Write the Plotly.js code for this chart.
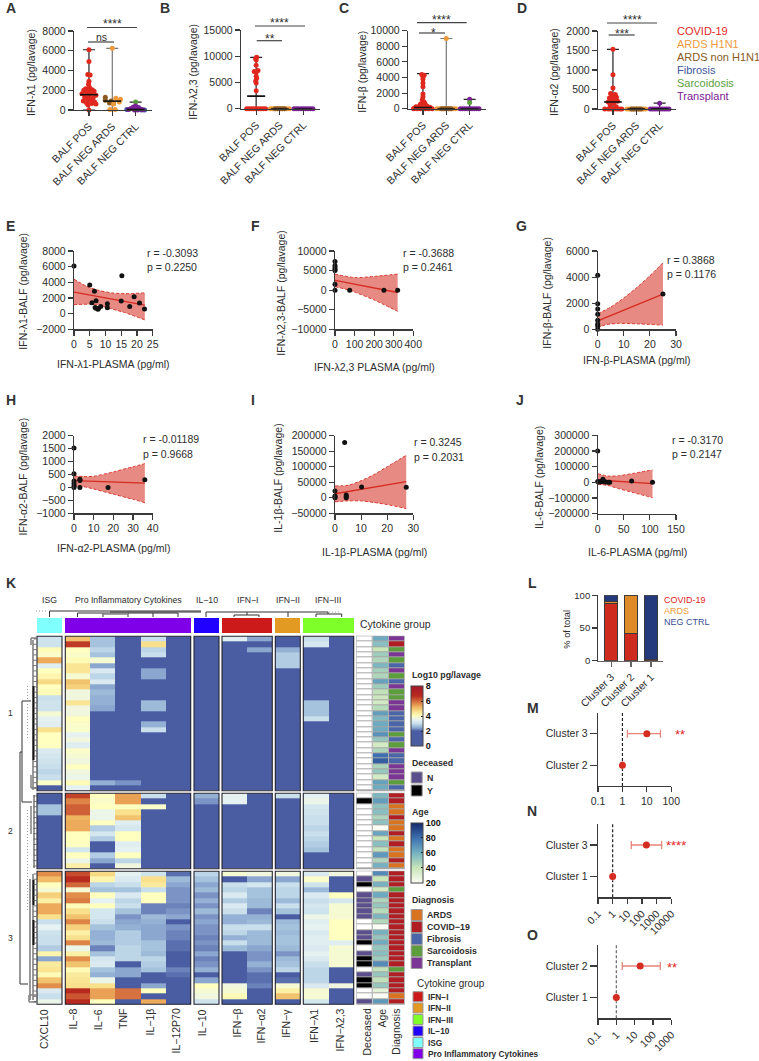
<!DOCTYPE html>
<html>
<head>
<meta charset="utf-8">
<script src="https://cdn.plot.ly/plotly-3.0.1.min.js"></script>
<style>body{margin:0;background:#fff}#chart{width:759px;height:1061px}</style>
</head>
<body>
<div id="chart"></div>
<script>
// ---- panels A-D: swarm values (pg/lavage) and x offsets from the category
const groups = ['BALF POS', 'BALF NEG ARDS', 'BALF NEG CTRL'];
const spreadX = [-.4, -.3, -.2, -.1, 0, .1, .2, .3, .4];
const spreadZero = [0, 0, 0, 0, 0, 0, 0, 0, 0];

const aCovidY = [6100,4900,3600,3550,2900,2600,2300,2150,2050,2000,1950,1900,1800,1700,1650,1500,1450,1300,1250,1100,1000,900,800,700,650,600,500,0];
const aCovidX = [0,0,-.05,.05,0,-.02,.02,-.14,.14,-.22,0,.22,-.1,.1,-.3,.3,0,-.18,.18,-.05,.1,-.24,.24,-.1,.12,.3,-.04,0];
const aBrownY = [1300,1000,900,700,650];
const aBrownX = [-.3,-.3,-.05,-.12,.05];
const aOrangeY = [6250,1200,1100,800,600,50,50];
const aOrangeX = [0,.15,.35,.3,.05,-.1,.12];
const aPurpleY = [400,300,250,150,100,50,30,0,0];
const aPurpleX = [0,-.1,.12,-.2,.2,-.3,.3,-.05,.08];
const aGreenY = [800];
const aGreenX = [0];
const aBlueY = [50,0,0];
const aBlueX = [-.38,.38,.25];

const bCovidY = [9800,9500,9300,8300,7300,7100,6900,6200,5800,5300,4900,3400,0,0,0,0,0,0,0,0,0];
const bCovidX = [.02,-.02,0,0,.08,-.08,0,0,.02,-.02,0,0,-.4,-.3,-.2,-.1,0,.1,.2,.3,.4];

const cCovidY = [4400,4300,4100,3800,3300,2800,1900,1500,1100,900,700,600,500,400,300,250,200,150,100,50,0,0,0,0,0,0,0];
const cCovidX = [-.05,.05,0,0,0,0,0,0,-.03,.04,.08,-.1,.1,-.14,.18,-.3,.3,-.2,.2,-.38,-.1,.1,-.25,.25,.4,-.4,0];
const cOrangeY = [9000];
const cPurpleY = [1200];
const cGreenY = [800];

const dCovidY = [1530,880,540,400,370,350,320,300,280,250,230,200,180,150,100,60,0,0,0,0,0,0,0];
const dCovidX = [0,0,0,-.1,.1,.05,-.05,.15,-.15,.08,-.08,.2,-.2,.03,-.12,.14,-.35,-.2,-.08,.05,.18,.3,.38];
const dPurpleY = [150];

// min, max and median of each group, per panel
const aHigh = [6100, 6250, 800], aMedian = [1550, 900, 50];
const bHigh = [9800, 0, 0], bMedian = [2400, 0, 0];
const cHigh = [4500, 9000, 1200], cMedian = [150, 0, 0];
const dHigh = [1530, 0, 150], dMedian = [180, 0, 0];

// ---- panels E-J: scatter points, fit line and confidence band
const ePointsX = [0,5,6.5,5.7,7,6.7,7,7.6,7.8,8.5,10.6,10.6,15,15.2,17.7,19.1,20.8,22.4];
const ePointsY = [6100,3650,2850,1400,1650,800,700,550,700,900,1250,750,1600,4850,900,2150,1350,600];
const eFitX = [0, 22.5], eFitY = [2750, 1100];
const eUpX = [0,4,8,12,16,22.5], eUpY = [4400,3500,2950,2650,2550,2650];
const eLoX = [0,5,8,12,16,22.5], eLoY = [1150,1200,1050,600,150,-800];

const fPointsX = [0,0,0,0,0,0,0,75,250,320];
const fPointsY = [7300,6300,5800,5300,5000,1500,0,0,0,0];
const fFitX = [0, 320], fFitY = [2500, -600];
const fUpX = [0,100,200,320], fUpY = [4100,3200,3500,4100];
const fLoX = [0,50,100,200,320], fLoY = [900,300,-500,-2500,-5400];

const gPointsX = [0,0,0,0,0,0,0,0,25];
const gPointsY = [4150,1950,1550,1150,700,400,250,0,2700];
const gFitX = [0, 25], gFitY = [650, 2700];
const gUpX = [0,5,10,15,20,25], gUpY = [1200,1700,2400,3200,4100,5100];
const gLoX = [0,3,8,15,25], gLoY = [100,350,450,420,320];

const hPointsX = [0,0,0,0,0,0,3,3,3,17.3,36];
const hPointsY = [1520,530,250,150,60,0,320,270,0,0,300];
const hFitX = [0, 36], hFitY = [260, 170];
const hUpX = [0,5,10,20,30,36], hUpY = [450,420,430,600,800,920];
const hLoX = [0,5,10,20,30,36], hLoY = [60,30,-60,-260,-460,-590];

const iPointsX = [0,0,0,0,3.7,4.3,4.3,4.3,10.2,27.3];
const iPointsY = [22000,6000,3000,0,178000,9000,4000,0,35000,34000];
const iFitX = [0, 27.3], iFitY = [13000, 52000];
const iUpX = [0,5,10,15,20,27.3], iUpY = [38000,40000,55000,75000,100000,137000];
const iLoX = [0,5,10,15,20,27.3], iLoY = [-13000,-10000,-10000,-15000,-22000,-35000];

const jPointsX = [0,0,2,5,8,10,12,15,20,23,65,105];
const jPointsY = [200000,5000,2000,3000,6000,20000,5000,2000,1000,0,8000,0];
const jFitX = [0, 105], jFitY = [15000, -8000];
const jUpX = [0,20,40,70,105], jUpY = [55000,40000,42000,58000,80000];
const jLoX = [0,20,40,70,105], jLoY = [-12000,-20000,-40000,-67000,-98000];

// ---- panel K: log10 pg/lavage per patient, clusters 1 (29 rows), 2 (14), 3 (25)
const cytokineNames = ['CXCL10','IL\u22128','IL\u22126','TNF','IL\u22121\u03b2','IL\u221212P70','IL\u221210','IFN\u2212\u03b2','IFN\u2212\u03b12','IFN\u2212\u03b3','IFN\u2212\u03bb1','IFN\u2212\u03bb2,3'];
const cxcl10 = [3.1,3.1,4.1,3.9,5.3,3.4,4.0,4.2,4.7,4.0,4.1,3.0,3.1,3.1,3.8,3.5,3.4,4.6,4.0,4.0,4.0,3.3,3.2,3.1,3.0,2.9,3.0,3.9,0,
  0,0,2.7,2.7,0,0,0,0,0,0,0,0,0,0,
  5.6,5.1,4.0,3.8,4.8,4.3,5.3,5.3,4.6,3.0,3.5,3.1,3.0,3.0,2.8,4.2,2.4,4.4,4.5,4.1,5.0,5.6,3.3,3.0,3.6];
const il8 = [5.0,6.5,4.0,3.9,4.1,4.5,4.5,3.8,5.0,4.8,3.7,3.7,4.5,3.7,3.7,4.0,3.9,3.9,3.5,3.7,3.4,3.9,3.8,3.7,4.0,3.7,3.6,4.1,3.5,
  6.4,5.7,6.1,6.1,5.2,5.3,5.3,4.0,4.0,4.0,3.2,4.0,3.6,4.3,
  6.3,6.7,6.0,3.8,5.6,5.8,4.1,4.6,5.0,5.7,4.8,4.3,4.6,5.7,3.6,4.3,5.6,5.0,4.1,4.4,4.5,4.6,6.7,6.2,6.7];
const il6 = [2.7,2.7,2.9,2.7,3.8,2.4,3.3,2.9,3.3,2.4,2.6,2.5,2.5,2.4,0,0,0,0,0,0,0,0,0,0,0,0,0,2.5,0,
  4.0,3.9,4.0,3.6,3.6,4.0,2.8,3.2,2.8,0,0,2.8,2.4,0,
  4.7,4.2,2.9,2.7,4.0,3.5,4.0,3.2,3.2,3.0,2.7,2.5,2.5,2.6,2.2,2.7,3.2,3.3,2.7,2.5,3.6,4.6,5.4,5.4,4.0];
const tnf = [0,0,0,0,0,0,0,0,0,0,0,0,0,0,0,0,0,0,0,0,0,0,0,0,0,0,0,2.3,0,
  5.4,5.4,4.0,4.6,5.0,3.4,3.2,4.0,4.0,3.4,3.5,4.0,2.9,3.7,
  3.5,3.3,3.0,2.7,3.3,2.9,3.0,2.7,2.3,2.4,2.5,2.8,2.8,2.8,2.9,2.9,2.9,.5,2.4,2.4,.3,.3,5.9,5.9,.3];
const il1b = [3.0,4.6,2.9,3.0,0,0,2.4,2.4,0,0,0,0,2.6,2.6,0,0,2.5,3.0,0,0,0,0,0,0,0,0,0,0,0,
  3.0,0,3.9,0,0,0,0,0,0,0,0,0,0,0,
  3.1,4.6,4.4,3.0,4.0,4.0,2.2,2.2,2.6,2.5,2.4,2.4,2.4,2.7,2.7,2.6,2.9,2.8,2.7,2.0,2.0,2.4,4.0,0,5.3];
const il12p70 = [0,0,0,0,0,0,0,0,0,0,0,0,0,0,0,0,0,0,0,0,0,0,0,0,0,0,0,0,0,
  0,0,0,0,0,0,0,0,0,0,0,0,0,0,
  2.1,2.6,2.4,2.3,2.3,2.3,2.2,2.3,2.4,2.0,2.3,2.2,2.2,2.1,2.1,2.0,2.0,2.0,2.2,2.1,2.0,2.0,0,0,0];
const il10 = [0,0,0,0,0,0,0,0,0,0,0,0,0,0,0,0,0,0,0,0,0,0,0,0,0,0,0,0,0,
  2.5,2.3,0,0,0,0,0,0,0,0,0,0,0,0,
  2.9,2.7,2.4,2.6,2.3,2.5,2.3,2.6,2.3,2.4,2.3,2.3,2.2,2.3,2.2,2.4,2.2,2.3,2.5,.5,2.4,4.0,3.8,3.7,3.1];
const ifnb = [3.4,0,0,0,0,0,0,0,0,0,0,0,0,0,0,0,0,0,0,0,0,0,0,0,0,0,0,0,0,
  3.5,3.5,0,0,0,0,0,0,0,0,0,0,0,0,
  3.8,0,3.0,2.9,3.3,2.8,3.3,3.0,2.5,2.5,3.0,2.9,2.5,3.0,2.6,0,0,0,0,0,0,3.7,3.8,4.1,0];
const ifna2 = [2.4,0,2.4,0,0,0,0,0,0,0,0,0,0,0,0,0,0,0,0,0,0,0,0,0,0,0,0,0,0,
  0,0,0,0,0,0,0,0,0,0,0,0,0,0,
  3.7,2.4,3.2,2.7,2.7,2.6,2.6,2.2,2.5,2.6,3.0,2.6,2.6,2.6,2.4,2.3,2.3,2.5,2.3,2.1,2.1,2.2,0,0,0];
const ifng = [0,0,2.5,2.8,2.8,2.8,0,0,0,0,0,0,0,0,0,0,0,0,0,0,0,0,0,0,0,0,0,0,0,
  3.0,0,0,0,0,0,0,0,0,0,0,0,0,0,
  3.7,2.4,3.0,2.9,2.9,2.6,3.0,2.7,.4,2.6,2.7,2.6,2.7,2.7,2.6,2.3,2.6,2.7,2.9,.5,2.1,3.8,4.3,5.0,0];
const ifnl1 = [3.0,3.2,0,0,0,0,0,0,0,0,0,0,2.7,2.7,2.7,3.0,0,0,0,0,0,0,0,0,0,0,0,0,0,
  3.5,3.6,3.2,3.1,3.0,3.0,2.9,3.0,2.9,2.8,2.7,0,0,0,
  3.3,3.9,3.1,2.6,3.3,3.0,3.2,3.1,3.6,3.4,3.5,3.3,3.4,3.4,3.3,3.5,3.3,3.0,2.9,2.9,2.9,3.3,3.8,3.8,3.2];
const ifnl23 = [0,0,0,0,0,0,0,0,0,0,0,0,0,0,0,0,0,0,0,0,0,0,0,0,0,0,0,0,0,
  0,0,0,0,0,0,0,0,0,0,0,0,0,0,
  3.7,0,0,0,4.0,3.2,3.8,3.8,3.8,4.0,4.0,4.0,4.0,3.4,3.8,3.8,3.8,3.8,0,0,0,3.7,0,0,0];
// 0 missing, 1 N, 2 Y
const deceased = [0,0,0,0,0,0,0,0,0,0,0,0,0,0,0,0,0,0,0,0,0,0,0,0,0,0,0,0,0,
  0,2,0,0,0,0,0,0,0,0,0,0,0,0,
  0,1,2,0,1,1,1,1,1,0,0,1,1,2,0,1,2,2,0,1,2,2,0,0,1];
const age = [62,55,40,50,46,58,48,46,65,50,42,38,36,44,66,57,62,62,70,52,36,46,80,85,47,52,36,65,62,
  58,66,54,55,46,54,20,64,40,55,42,68,46,60,
  72,40,60,36,62,46,52,44,58,45,20,60,52,62,52,55,50,72,42,52,42,52,30,20,68];
// 0 ARDS, 1 COVID-19, 2 Fibrosis, 3 Sarcoidosis, 4 Transplant
const diagnosis = [4,1,3,4,3,2,4,3,2,4,3,3,4,4,2,2,2,2,3,2,3,4,2,2,4,4,4,3,2,
  1,1,0,0,1,0,0,1,0,1,0,0,1,0,
  1,1,1,3,1,1,1,1,1,1,1,1,1,1,1,1,1,1,3,1,1,1,1,0,1];

const groupNames = ['ISG','Pro Inflammatory Cytokines','IL\u221210','IFN\u2212I','IFN\u2212II','IFN\u2212III'];
const groupOfColumn = [0,1,1,1,1,1,2,3,3,4,5,5];
const diagnosisNames = ['ARDS','COVID\u221219','Fibrosis','Sarcoidosis','Transplant'];
const legendGroupNames = ['IFN\u2212I','IFN\u2212II','IFN\u2212III','IL\u221210','ISG','Pro Inflammatory Cytokines'];

// ---- panel L
const clusterNames = ['Cluster 3', 'Cluster 2', 'Cluster 1'];
const lCovid = [88, 42, 2];
const lArds = [3, 58, 0];
const lCtrl = [9, 0, 98];

// ---- panels M-O: odds ratio and confidence limits
const mLabels = ['Cluster 2', 'Cluster 3'], mOdds = [1, 10], mLow = [1, 1.6], mHigh = [1, 36];
const nLabels = ['Cluster 1', 'Cluster 3'], nOdds = [1, 200], nLow = [1, 18.6], nHigh = [1, 2200];
const oLabels = ['Cluster 1', 'Cluster 2'], oOdds = [1, 20], oLow = [1, 2.1], oHigh = [1, 250];

// ---- styles
const W = 759, H = 1061;
const FONT = '"Liberation Sans", Arial, sans-serif';
const INK = '#2d2d2d';
const RED = '#e0281f', ORANGE = '#ee9a3a', BROWN = '#8a5a23', BLUE = '#3f57a0', GREEN = '#5a9e3c', PURPLE = '#7a2096';

const data = [];
const annotations = [];
const shapes = [];
const layout = {
  width: W, height: H,
  margin: { l: 0, r: 0, t: 0, b: 0 },
  paper_bgcolor: '#fff', plot_bgcolor: 'rgba(0,0,0,0)',
  showlegend: false,
  font: { family: FONT, size: 10.5, color: INK },
  // the first pair of axes is the page in pixels, it holds panel K and the loose text
  xaxis: { range: [0, W], domain: [0, 1], visible: false, fixedrange: true },
  yaxis: { range: [H, 0], domain: [0, 1], visible: false, fixedrange: true },
  annotations, shapes
};

function txt(x, y, text, o = {}) {
  annotations.push({
    x, y, xref: 'x', yref: 'y', text, showarrow: false,
    xanchor: o.anchor || 'center', yanchor: o.yanchor || 'middle', textangle: o.angle || 0,
    borderpad: 0,
    font: { family: FONT, size: o.size || 10.5, color: o.color || INK, weight: o.bold ? 700 : 400 }
  });
}

let axisCount = 1;
function addAxes(box, xOpt, yOpt) {
  axisCount++;
  const n = axisCount;
  const base = {
    showgrid: false, zeroline: false, showline: true, linecolor: '#3a3a3a', linewidth: 1.2,
    ticks: 'outside', ticklen: 5, tickwidth: 1.1, tickcolor: '#3a3a3a', fixedrange: true,
    tickformat: 'd', tickfont: { family: FONT, size: 10.5, color: INK }
  };
  layout['xaxis' + n] = Object.assign({}, base, { domain: [box[0] / W, box[1] / W], anchor: 'y' + n }, xOpt);
  layout['yaxis' + n] = Object.assign({}, base, { domain: [1 - box[3] / H, 1 - box[2] / H], anchor: 'x' + n }, yOpt);
  return { xaxis: 'x' + n, yaxis: 'y' + n };
}

function sigBar(x0, x1, y, label, labelX, labelY, size) {
  shapes.push({ type: 'line', xref: 'x', yref: 'y', x0, x1, y0: y, y1: y, line: { color: '#444', width: 1.2 } });
  txt(labelX, labelY, label, { size: size || 12 });
}

// ---- A-D
function swarmPanel(box, maxY, dtick, high, median, rangeColors, sets) {
  const ax = addAxes(box,
    { range: [-.64, 2.7], tickvals: [0, 1, 2], ticktext: groups, tickangle: -45 },
    { range: [0, maxY], dtick });
  groups.forEach((g, i) => {
    data.push(Object.assign({
      type: 'scatter', mode: 'markers', x: [i], y: [median[i]], cliponaxis: false,
      marker: { size: 1, opacity: 0 },
      error_y: { type: 'data', symmetric: false, array: [high[i] - median[i]], arrayminus: [median[i]], width: 6, thickness: 1.2, color: rangeColors[i] }
    }, ax));
  });
  sets.forEach(s => {
    data.push(Object.assign({
      type: 'scatter', mode: 'markers', cliponaxis: false,
      x: s.x.map(v => s.cat + v), y: s.y,
      marker: { size: 5, color: s.color }
    }, ax));
  });
  groups.forEach((g, i) => {
    data.push(Object.assign({
      type: 'scatter', mode: 'markers', x: [i], y: [median[i]], cliponaxis: false,
      marker: { size: 1, opacity: 0 },
      error_x: { type: 'constant', value: .38, width: 0, thickness: 1.6, color: '#111' }
    }, ax));
  });
}

swarmPanel([74, 152, 31, 110], 8000, 2000, aHigh, aMedian, ['#222', '#777', '#222'], [
  { cat: 0, x: aCovidX, y: aCovidY, color: RED },
  { cat: 1, x: aBrownX, y: aBrownY, color: BROWN },
  { cat: 1, x: aOrangeX, y: aOrangeY, color: ORANGE },
  { cat: 2, x: aBlueX, y: aBlueY, color: BLUE },
  { cat: 2, x: aGreenX, y: aGreenY, color: GREEN },
  { cat: 2, x: aPurpleX, y: aPurpleY, color: PURPLE }
]);
swarmPanel([241, 320, 30, 108.7], 15000, 5000, bHigh, bMedian, ['#222', '#777', '#222'], [
  { cat: 0, x: bCovidX, y: bCovidY, color: RED },
  { cat: 1, x: spreadX, y: spreadZero, color: ORANGE },
  { cat: 1, x: spreadX.slice(2, 7), y: spreadZero.slice(2, 7), color: BROWN },
  { cat: 2, x: spreadX, y: spreadZero, color: PURPLE }
]);
swarmPanel([408, 486, 30.7, 108.7], 10000, 2000, cHigh, cMedian, ['#222', '#777', '#222'], [
  { cat: 0, x: cCovidX, y: cCovidY, color: RED },
  { cat: 1, x: spreadX, y: spreadZero, color: ORANGE },
  { cat: 1, x: spreadX.slice(2, 7), y: spreadZero.slice(2, 7), color: BROWN },
  { cat: 1, x: [0], y: cOrangeY, color: ORANGE },
  { cat: 2, x: spreadX, y: spreadZero, color: PURPLE },
  { cat: 2, x: [0], y: cPurpleY, color: PURPLE },
  { cat: 2, x: [0], y: cGreenY, color: GREEN }
]);
swarmPanel([598, 676, 31, 109], 2000, 500, dHigh, dMedian, ['#222', '#777', '#222'], [
  { cat: 0, x: dCovidX, y: dCovidY, color: RED },
  { cat: 1, x: spreadX, y: spreadZero, color: ORANGE },
  { cat: 1, x: spreadX.slice(2, 7), y: spreadZero.slice(2, 7), color: BROWN },
  { cat: 2, x: spreadX, y: spreadZero, color: PURPLE },
  { cat: 2, x: [0], y: dPurpleY, color: PURPLE }
]);

sigBar(87, 137, 27.5, '****', 112, 23.5);
sigBar(88, 114, 42, 'ns', 101, 36.5, 10.5);
sigBar(255, 305, 26, '****', 279, 23);
sigBar(256.7, 282, 40.7, '**', 270, 38.5);
sigBar(417, 466.7, 22.7, '****', 441, 19.5);
sigBar(419, 445, 33, '*', 433.5, 33);
sigBar(607, 657, 23, '****', 632, 19.5);
sigBar(608.7, 634.7, 35, '***', 622, 33.5);

txt(31, 73, 'IFN-\u03bb1 (pg/lavage)', { angle: -90 });
txt(192.7, 72, 'IFN-\u03bb2,3 (pg/lavage)', { angle: -90 });
txt(361.7, 72, 'IFN-\u03b2 (pg/lavage)', { angle: -90 });
txt(554, 72, 'IFN-\u03b12 (pg/lavage)', { angle: -90 });

[['COVID-19', 31, RED], ['ARDS H1N1', 44, ORANGE], ['ARDS non H1N1', 57, BROWN], ['Fibrosis', 70, BLUE], ['Sarcoidosis', 83, GREEN], ['Transplant', 95.5, PURPLE]]
  .forEach(l => txt(676, l[1], l[0], { anchor: 'left', size: 11, color: l[2] }));

// ---- E-J
function corrPanel(box, xRange, xTick, yRange, yTick, pts, fit, up, lo) {
  const ax = addAxes(box, { range: xRange, dtick: xTick, tickangle: 0 }, { range: yRange, dtick: yTick });
  const bandLine = { color: '#d9362c', width: 1, dash: '3px,2px', shape: 'spline', smoothing: .6 };
  data.push(Object.assign({ type: 'scatter', mode: 'lines', x: up[0], y: up[1], line: bandLine, cliponaxis: false }, ax));
  data.push(Object.assign({ type: 'scatter', mode: 'lines', x: lo[0], y: lo[1], line: bandLine, fill: 'tonexty', fillcolor: 'rgba(217,60,50,.6)', cliponaxis: false }, ax));
  data.push(Object.assign({ type: 'scatter', mode: 'lines', x: fit[0], y: fit[1], line: { color: '#d42c20', width: 1.3 } }, ax));
  data.push(Object.assign({ type: 'scatter', mode: 'markers', x: pts[0], y: pts[1], marker: { size: 5, color: '#111' }, cliponaxis: false }, ax));
}

corrPanel([74, 152.7, 251, 329.3], [0, 25], 5, [-2000, 8000], 2000, [ePointsX, ePointsY], [eFitX, eFitY], [eUpX, eUpY], [eLoX, eLoY]);
corrPanel([335, 413.3, 251, 329.3], [0, 400], 100, [-10000, 10000], 5000, [fPointsX, fPointsY], [fFitX, fFitY], [fUpX, fUpY], [fLoX, fLoY]);
corrPanel([597.7, 676, 251, 329.3], [0, 30], 10, [0, 6000], 2000, [gPointsX, gPointsY], [gFitX, gFitY], [gUpX, gUpY], [gLoX, gLoY]);
corrPanel([74, 152.7, 435.7, 513.3], [0, 40], 10, [-1000, 2000], 500, [hPointsX, hPointsY], [hFitX, hFitY], [hUpX, hUpY], [hLoX, hLoY]);
corrPanel([335, 413.3, 435.7, 513.3], [0, 30], 10, [-50000, 200000], 50000, [iPointsX, iPointsY], [iFitX, iFitY], [iUpX, iUpY], [iLoX, iLoY]);
corrPanel([597.7, 676, 435.3, 513.7], [0, 150], 50, [-200000, 300000], 100000, [jPointsX, jPointsY], [jFitX, jFitY], [jUpX, jUpY], [jLoX, jLoY]);

[[23, 291.7, 'IFN-\u03bb1-BALF (pg/lavage)'], [280.7, 293, 'IFN-\u03bb2,3-BALF (pg/lavage)'], [546.7, 293, 'IFN-\u03b2-BALF (pg/lavage)'],
 [22.7, 476.7, 'IFN-\u03b12-BALF (pg/lavage)'], [277.7, 478, 'IL-1\u03b2-BALF (pg/lavage)'], [539, 478, 'IL-6-BALF (pg/lavage)']]
  .forEach(t => txt(t[0], t[1], t[2], { angle: -90 }));
[[113.3, 364.3, 'IFN-\u03bb1-PLASMA (pg/ml)'], [374.5, 366.7, 'IFN-\u03bb2,3 PLASMA (pg/ml)'], [637, 360, 'IFN-\u03b2-PLASMA (pg/ml)'],
 [113.7, 547.7, 'IFN-\u03b12-PLASMA (pg/ml)'], [374.5, 551.7, 'IL-1\u03b2-PLASMA (pg/ml)'], [637, 552, 'IL-6-PLASMA (pg/ml)']]
  .forEach(t => txt(t[0], t[1], t[2]));
[[145.7, 252.7, 'r = -0.3093', 'p = 0.2250'], [401.7, 252.7, 'r = -0.3688', 'p = 0.2461'], [665.7, 260, 'r = 0.3868', 'p = 0.1176'],
 [141.7, 439.3, 'r = -0.01189', 'p = 0.9668'], [412.7, 442.3, 'r = 0.3245', 'p = 0.2031'], [671, 440, 'r = -0.3170', 'p = 0.2147']]
  .forEach(t => { txt(t[0], t[1], t[2], { anchor: 'left' }); txt(t[0], t[1] + 14.3, t[3], { anchor: 'left' }); });

// ---- K
const cytoCols = [cxcl10, il8, il6, tnf, il1b, il12p70, il10, ifnb, ifna2, ifng, ifnl1, ifnl23];

function buildEdges(blocks) {
  const edges = [], slots = [];
  let k = 0;
  blocks.forEach((b, i) => {
    const step = (b[1] - b[0]) / b[2];
    for (let j = 0; j < b[2]; j++) { edges.push(b[0] + j * step); slots.push(k++); }
    edges.push(b[1]);
    if (i < blocks.length - 1) slots.push(null);
  });
  return { edges, slots };
}

const rowBlocks = [[636.3, 790.7, 29], [793.3, 868.7, 14], [871.3, 1004.3, 25]];
const colBlocks = [[37, 62, 1], [65.3, 190.7, 5], [194, 219, 1], [222, 272.3, 2], [275.3, 300.3, 1], [303.3, 353.7, 2]];
const metaBlocks = [[356.7, 372], [373, 388.3], [389, 404.3]];
const rows = buildEdges(rowBlocks), cols = buildEdges(colBlocks);

const logScale = [[0, '#4a5da3'], [2 / 8, '#4a5da3'], [2.4 / 8, '#8ba7d0'], [2.7 / 8, '#a6c3de'], [3 / 8, '#c9dfec'], [3.5 / 8, '#e6f2f2'],
  [4 / 8, '#ffffbf'], [4.6 / 8, '#f8e08c'], [5.2 / 8, '#efb45f'], [5.7 / 8, '#de8447'], [6.2 / 8, '#ca5632'], [6.7 / 8, '#b8291f'], [1, '#a5172a']];
const ageScale = [[0, '#fbfdf4'], [.25, '#c8e6b8'], [.5, '#74b2c2'], [.75, '#3d70b0'], [1, '#16296a']];

function stepScale(colors) {
  const out = [], n = colors.length;
  colors.forEach((c, i) => { out.push([i / n, c], [(i + 1) / n, c]); });
  return out;
}

const barFont = { family: FONT, size: 9, color: '#111', weight: 700 };
function barOpts(top, vals) {
  return {
    x: 410.7 / W, xanchor: 'left', y: 1 - top / H, yanchor: 'top', ypad: 0, xpad: 0,
    len: 60, lenmode: 'pixels', thickness: 11.5, thicknessmode: 'pixels',
    outlinecolor: '#444', outlinewidth: 1, tickvals: vals, ticks: 'inside', ticklen: 2, tickcolor: '#222',
    tickfont: barFont
  };
}

const bandColors = ['#80ffff', '#7f00e8', '#2200ff', '#cc1a1a', '#e39a22', '#7fff2a'];

// background for the thin separators of the annotation columns
metaBlocks.forEach(m => rowBlocks.forEach(r => shapes.push({
  type: 'rect', layer: 'below', xref: 'x', yref: 'y', x0: m[0] - .5, x1: m[1] + .5, y0: r[0] - .5, y1: r[1] + .5,
  fillcolor: '#a6a6a6', line: { width: 0 }
})));

data.push({
  type: 'heatmap', xaxis: 'x', yaxis: 'y', x: cols.edges, y: [618, 633],
  z: [cols.slots.map(c => c === null ? null : groupOfColumn[c])],
  zmin: 0, zmax: 5, colorscale: stepScale(bandColors), showscale: false
});
data.push({
  type: 'heatmap', xaxis: 'x', yaxis: 'y', x: cols.edges, y: rows.edges,
  z: rows.slots.map(r => cols.slots.map(c => (r === null || c === null) ? null : cytoCols[c][r])),
  zmin: 0, zmax: 8, colorscale: logScale, colorbar: barOpts(686, [0, 2, 4, 6, 8])
});
data.push({
  type: 'heatmap', xaxis: 'x', yaxis: 'y', x: metaBlocks[0].slice(0, 2), y: rows.edges, ygap: 1,
  z: rows.slots.map(r => [r === null ? null : deceased[r]]),
  zmin: 0, zmax: 2, colorscale: stepScale(['#ffffff', '#5a4f8c', '#000000']), showscale: false
});
data.push({
  type: 'heatmap', xaxis: 'x', yaxis: 'y', x: metaBlocks[1].slice(0, 2), y: rows.edges, ygap: 1,
  z: rows.slots.map(r => [r === null ? null : age[r]]),
  zmin: 20, zmax: 100, colorscale: ageScale, colorbar: barOpts(822.7, [20, 40, 60, 80, 100])
});
const diagnosisColors = ['#d9731f', '#b01e23', '#4a66a8', '#5b9e3b', '#7b3595'];
data.push({
  type: 'heatmap', xaxis: 'x', yaxis: 'y', x: metaBlocks[2].slice(0, 2), y: rows.edges, ygap: 1,
  z: rows.slots.map(r => [r === null ? null : diagnosis[r]]),
  zmin: 0, zmax: 4, colorscale: stepScale(diagnosisColors), showscale: false
});

colBlocks.forEach(c => rowBlocks.forEach(r => shapes.push({
  type: 'rect', xref: 'x', yref: 'y', x0: c[0], x1: c[1], y0: r[0], y1: r[1],
  fillcolor: 'rgba(0,0,0,0)', line: { color: '#25252f', width: 1.1 }
})));

// column and row dendrograms, line pieces [x0, y0, x1, y1]
const dendroDark = [
  [49.5,611,201,611],[49.5,611,49.5,617],[110,612,201,612],[206,612,328,612],[206,612,206,617],
  [77.5,613,178,613],[77.5,613,77.5,617],[103,613,103,617],[128,613,128,617],[153,613,153,617],[178,613,178,617],
  [234,615,259,615],[234,615,234,617],[259,615,259,617],[247,612,247,615],[288,612,288,617],
  [316,614,341.7,614],[316,614,316,617],[341.7,614,341.7,617],[328,612,328,614],
  [22,701,31,701],[22,701,22,802],[22,802,32,802],[20,752,22,752],[20,752,20,984],[20,984,28,984],
  [33,640,33,790],[34,795,34,868],[33,874,33,1000],[30,879,30,1000]
];
const dendroThick = [[33.5,686,33.5,760],[33.5,880,33.5,905],[33.5,920,33.5,945]];
const dendroGray = [[31,638,36,638],[31,638,31,645],[31,775,31,788],[31,788,36,788],[103,614,128,614],[29,995,36,995],[29,995,29,1002],[29,1002,36,1002],[31,806,31,834]];
const dendroDots = [[36,611,48,611],[329,612,340,612],[27.5,686,27.5,740],[27.5,810,27.5,910]];
function segTrace(segs, line) {
  const x = [], y = [];
  segs.forEach(s => { x.push(s[0], s[2], null); y.push(s[1], s[3], null); });
  data.push({ type: 'scatter', mode: 'lines', xaxis: 'x', yaxis: 'y', x, y, line, connectgaps: false });
}
segTrace(dendroDark, { color: '#333', width: 1 });
segTrace(dendroThick, { color: '#111', width: 2 });
segTrace(dendroGray, { color: '#888', width: 1.6 });
segTrace(dendroDots, { color: '#999', width: 1, dash: '1px,2px' });
const stubs = [];
rows.slots.forEach((r, i) => { if (r !== null) { const m = (rows.edges[i] + rows.edges[i + 1]) / 2; stubs.push([33.5, m, 36.5, m]); } });
segTrace(stubs, { color: '#555', width: .8 });

// heat map labels
const groupLabelX = [49.5, 128, 206.5, 247, 288, 328];
groupNames.forEach((g, i) => txt(groupLabelX[i], 600, g, { size: 8.7 }));
txt(395, 623.5, 'Cytokine group', { size: 10.5 });
const columnLabelX = [44, 72, 97.7, 123, 149, 175, 201.7, 236, 260, 285.3, 314, 339];
cytokineNames.forEach((c, i) => txt(columnLabelX[i], 1008, c, { angle: -90, yanchor: 'top' }));
[['Deceased', 366], ['Age', 381], ['Diagnosis', 395.7]].forEach(m => txt(m[1], 1008, m[0], { angle: -90, yanchor: 'top' }));
[['1', 713], ['2', 831], ['3', 938]].forEach(m => txt(10, m[1], m[0], { size: 8.5 }));

// heat map legends
function legendHead(y, text, x, bold) { txt(x, y, text, { anchor: 'left', size: bold ? 8.8 : 10, bold }); }
legendHead(675, 'Log10 pg/lavage', 410.7, true);
legendHead(763, 'Deceased', 410.7, true);
legendHead(811.7, 'Age', 410.7, true);
legendHead(900, 'Diagnosis', 410.7, true);
legendHead(983.7, 'Cytokine group', 415.7, false);

function swatches(x, ys, colors, labels, labelX, size, fs) {
  data.push({
    type: 'scatter', mode: 'markers', xaxis: 'x', yaxis: 'y',
    x: ys.map(() => x), y: ys,
    marker: { symbol: 'square', size, color: colors, line: { color: '#999', width: 1 } }
  });
  labels.forEach((l, i) => txt(labelX, ys[i], l, { anchor: 'left', size: fs, bold: true }));
}
swatches(416.7, [777.5, 790.5], ['#5a4f8c', '#000000'], ['N', 'Y'], 426, 11, 8.8);
swatches(416.7, [915, 927, 939, 951, 963], diagnosisColors, diagnosisNames, 426, 11, 8.8);
swatches(418, [996.7, 1008, 1019.5, 1031, 1042.5, 1053.7], ['#cc1a1a', '#e39a22', '#7fff2a', '#2200ff', '#80ffff', '#7f00e8'], legendGroupNames, 426.7, 10, 8.3);

// ---- L
const lAx = addAxes([598.3, 663, 595.3, 660.7],
  { range: [-.64, 2.6], tickvals: [0, 1, 2], ticktext: clusterNames, tickangle: -45, linecolor: '#666', tickcolor: '#666' },
  { range: [0, 100], tickvals: [0, 50, 100], tickfont: { family: FONT, size: 9.5, color: INK } });
const lx = [0, 1, 2];
[[lCovid, '#cf2a1e'], [lArds, '#dd8a27'], [lCtrl, '#243a7c']].forEach(s => data.push(Object.assign({
  type: 'bar', x: lx, y: s[0], width: .67, marker: { color: s[1], line: { color: '#3a3a3a', width: 1 } }
}, lAx)));
layout.barmode = 'stack';
txt(566.7, 629, '% of total', { angle: -90, size: 9.3 });
txt(662.7, 600, 'COVID-19', { anchor: 'left', size: 9, color: RED });
txt(662.7, 611, 'ARDS', { anchor: 'left', size: 9, color: ORANGE });
txt(662.7, 622, 'NEG CTRL', { anchor: 'left', size: 9, color: '#3a5095' });

// ---- M-O
function forestPanel(box, xRange, ticks, tickAngle, labels, odds, low, high, yRange, refColor) {
  const ax = addAxes(box,
    { type: 'log', range: xRange, tickvals: ticks, ticktext: ticks.map(String), tickangle: tickAngle },
    { range: yRange, tickvals: [0, 1], ticktext: labels, ticklen: 7 });
  data.push(Object.assign({ type: 'scatter', mode: 'lines', x: [1, 1], y: yRange, line: { color: refColor, width: 1.2, dash: '3px,2px' } }, ax));
  data.push(Object.assign({
    type: 'scatter', mode: 'markers', x: odds, y: [0, 1], cliponaxis: false,
    marker: { size: 7, color: '#d42c20' },
    error_x: { type: 'data', symmetric: false, array: high.map((h, i) => h - odds[i]), arrayminus: low.map((l, i) => odds[i] - l), width: 4, thickness: 1.3, color: '#e8857c' }
  }, ax));
}
forestPanel([598, 671.3, 712.7, 786], [-1, 2], [0.1, 1, 10, 100], 0, mLabels, mOdds, mLow, mHigh, [-.655, 1.665], '#222');
forestPanel([598, 671.3, 824, 897.3], [-1, 4], [0.1, 1, 10, 100, 1000, 10000], -45, nLabels, nOdds, nLow, nHigh, [-.655, 1.665], '#222');
forestPanel([598, 671.3, 945, 1018.3], [-1, 3], [0.1, 1, 10, 100, 1000], -45, oLabels, oOdds, oLow, oHigh, [-.655, 1.665], '#666');
txt(674, 734, '**', { anchor: 'left', size: 13, color: RED });
txt(664.5, 845, '****', { anchor: 'left', size: 13, color: RED });
txt(666, 967, '**', { anchor: 'left', size: 13, color: RED });

// ---- panel letters
[['A', 5, 8], ['B', 159, 8], ['C', 338, 8], ['D', 516, 8], ['E', 5, 226], ['F', 250, 226], ['G', 515, 226],
 ['H', 5, 400], ['I', 250, 400], ['J', 515, 400], ['K', 5, 583], ['L', 527, 583], ['M', 526, 708], ['N', 526, 811], ['O', 526, 935]]
  .forEach(l => txt(l[1], l[2], l[0], { anchor: 'left', size: 14, bold: true, color: '#333' }));

Plotly.newPlot('chart', data, layout, { staticPlot: true });
</script>
</body>
</html>
